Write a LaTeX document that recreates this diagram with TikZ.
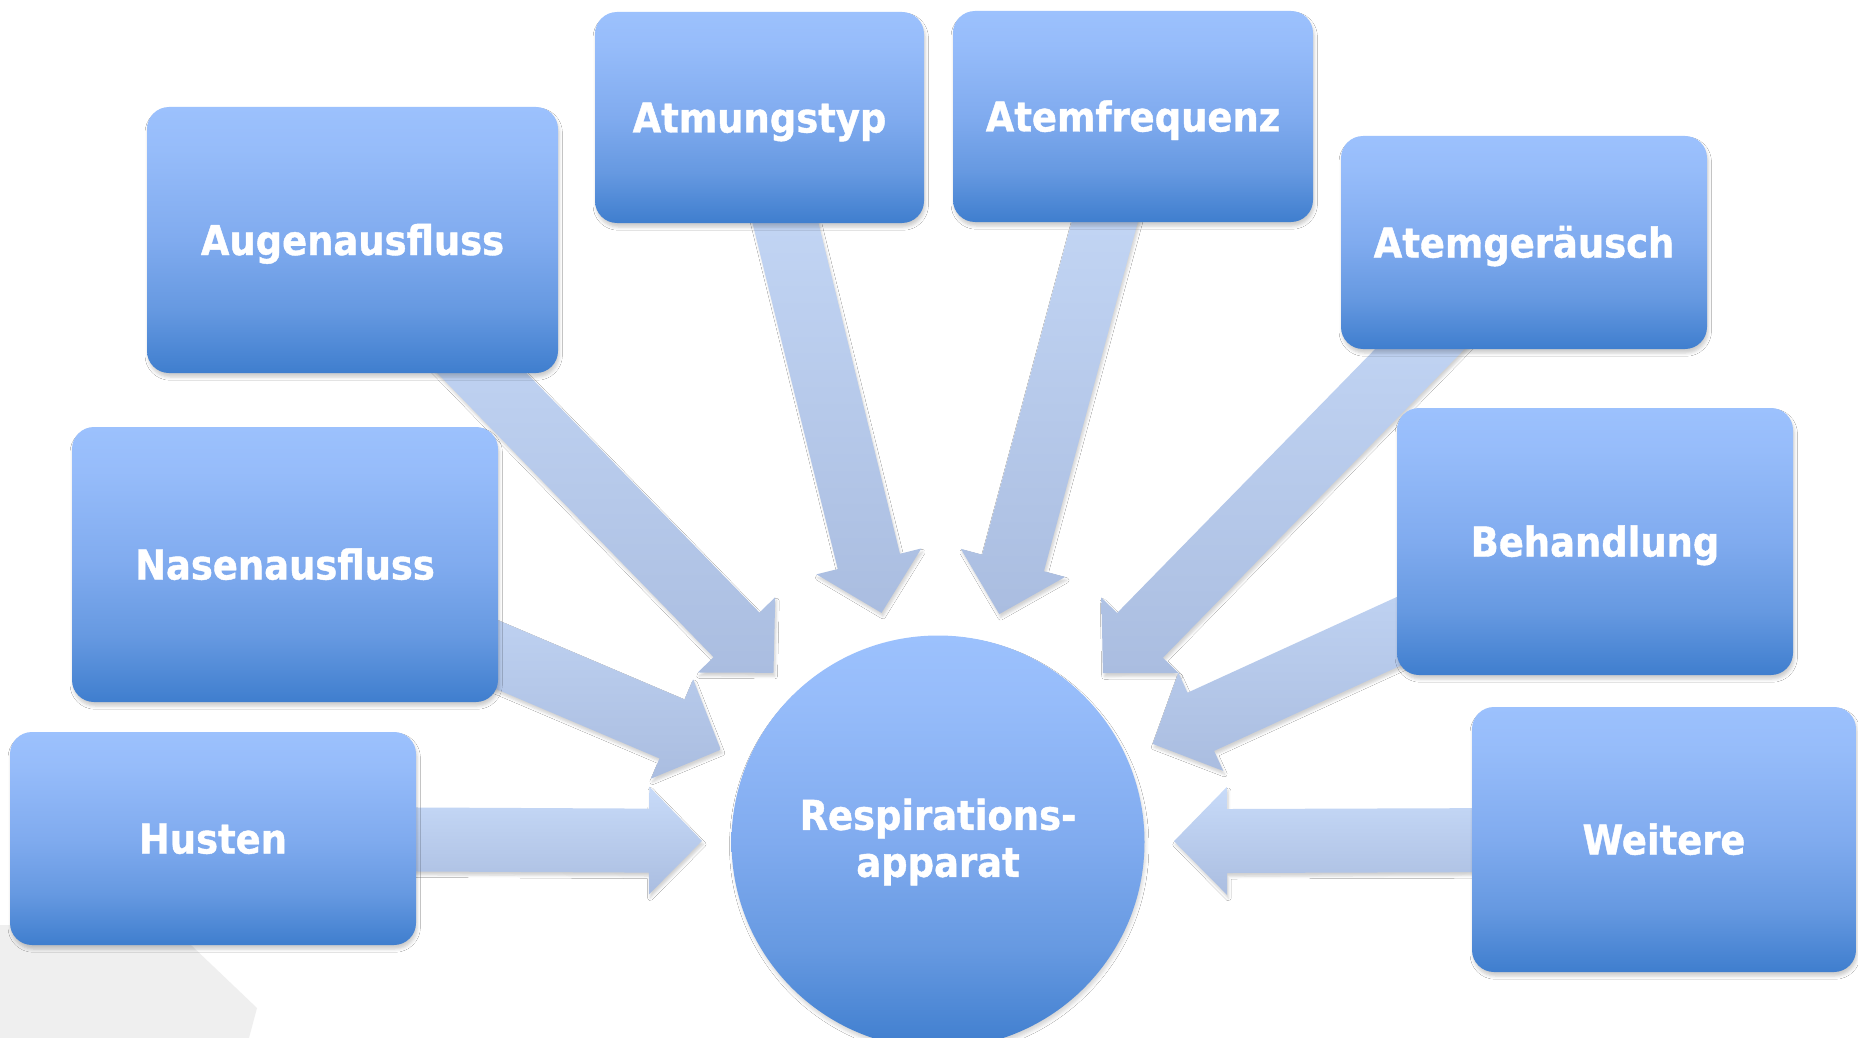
\documentclass[tikz,border=0pt]{standalone}
\usepackage{fontspec}
\newfontfamily\labfont{DejaVu Sans}[FakeStretch=0.9,BoldFeatures={FakeBold=1}]
\usetikzlibrary{calc,shadows.blur}
\definecolor{bT}{HTML}{9CC1FD}
\definecolor{bU}{HTML}{96BCFA}
\definecolor{bD}{HTML}{80ABEF}
\definecolor{bC}{HTML}{6699E1}
\definecolor{bB}{HTML}{3F7ECE}
\definecolor{arrT}{HTML}{C8DBF9}
\definecolor{arrB}{HTML}{AABDE0}
\definecolor{greyc}{HTML}{EFEFEF}
\pgfdeclareverticalshading{boxsh}{100bp}{color(0bp)=(bB); color(25bp)=(bB); color(37bp)=(bC); color(50bp)=(bD); color(67bp)=(bU); color(75bp)=(bT); color(100bp)=(bT)}
\tikzset{
  boxsty/.style={rectangle, rounded corners=11pt, shading=boxsh, draw=none, inner sep=0pt,
    text=white, font=\labfont\bfseries\fontsize{20.5}{23.5}\selectfont,
    text height=15pt, text depth=0pt,
    blur shadow={shadow xshift=0.6pt, shadow yshift=-2pt, shadow blur radius=1.6pt, shadow opacity=20}},
  hubsty/.style={circle, shading=boxsh, draw=none, inner sep=0pt, minimum size=206.5pt,
    text=white, font=\labfont\bfseries\fontsize{20.5}{23.5}\selectfont, align=center,
    blur shadow={shadow xshift=0.6pt, shadow yshift=-2pt, shadow blur radius=1.6pt, shadow opacity=16}},
  arrowsty/.style={top color=arrT, bottom color=arrB, draw=none,
    blur shadow={shadow xshift=0.7pt, shadow yshift=-1.7pt, shadow blur radius=1.3pt, shadow opacity=18}}
}
\newcommand\radarrow[1]{%
  \coordinate (#1-t) at ($(cen)!118pt!(#1)$);
  \coordinate (#1-h) at ($(cen)!144.5pt!(#1)$);
  \path[arrowsty] ($(#1)!16pt!90:(cen)$) -- ($(#1-h)!16pt!90:(cen)$)
    -- ($(#1-h)!27pt!90:(cen)$) -- (#1-t) -- ($(#1-h)!27pt!-90:(cen)$)
    -- ($(#1-h)!16pt!-90:(cen)$) -- ($(#1)!16pt!-90:(cen)$) -- cycle;
}
\begin{document}
\begin{tikzpicture}[x=0.5pt,y=-0.5pt]
\useasboundingbox (0,0) rectangle (1858,1038);
\fill[white] (0,0) rectangle (1858,1038);
\fill[greyc] (0,925) -- (170,925) -- (257,1008) -- (249,1038) -- (0,1038) -- cycle;

% centres of the nodes
\coordinate (cen) at (938,842);
\coordinate (aug) at (352.5,240);
\coordinate (atm) at (759.5,117.5);
\coordinate (afr) at (1133,116.5);
\coordinate (ager) at (1524,242.5);
\coordinate (nas) at (285,564.5);
\coordinate (beh) at (1595,541.5);
\coordinate (hus) at (213,838.5);
\coordinate (wei) at (1664,839.5);

% converging arrows (behind the nodes)
\radarrow{aug}
\radarrow{atm}
\radarrow{afr}
\radarrow{ager}
\radarrow{nas}
\radarrow{beh}
\radarrow{hus}
\radarrow{wei}

\node[hubsty] (hub) at (cen) {Respirations-\\apparat};
\node[boxsty, minimum width=205.5pt, minimum height=133pt] (augbox) at (aug) {Augenausfluss};
\node[boxsty, minimum width=164.5pt, minimum height=105.5pt] (atmbox) at (atm) {Atmungstyp};
\node[boxsty, minimum width=180pt, minimum height=105.5pt] (afrbox) at (afr) {Atemfrequenz};
\node[boxsty, minimum width=183pt, minimum height=106.5pt] (agerbox) at (ager) {Atemgeräusch};
\node[boxsty, minimum width=213pt, minimum height=137.5pt] (nasbox) at (nas) {Nasenausfluss};
\node[boxsty, minimum width=198pt, minimum height=133.5pt] (behbox) at (beh) {Behandlung};
\node[boxsty, minimum width=203pt, minimum height=106.5pt] (husbox) at (hus) {Husten};
\node[boxsty, minimum width=192pt, minimum height=132.5pt] (weibox) at (wei) {Weitere};
\end{tikzpicture}
\end{document}
